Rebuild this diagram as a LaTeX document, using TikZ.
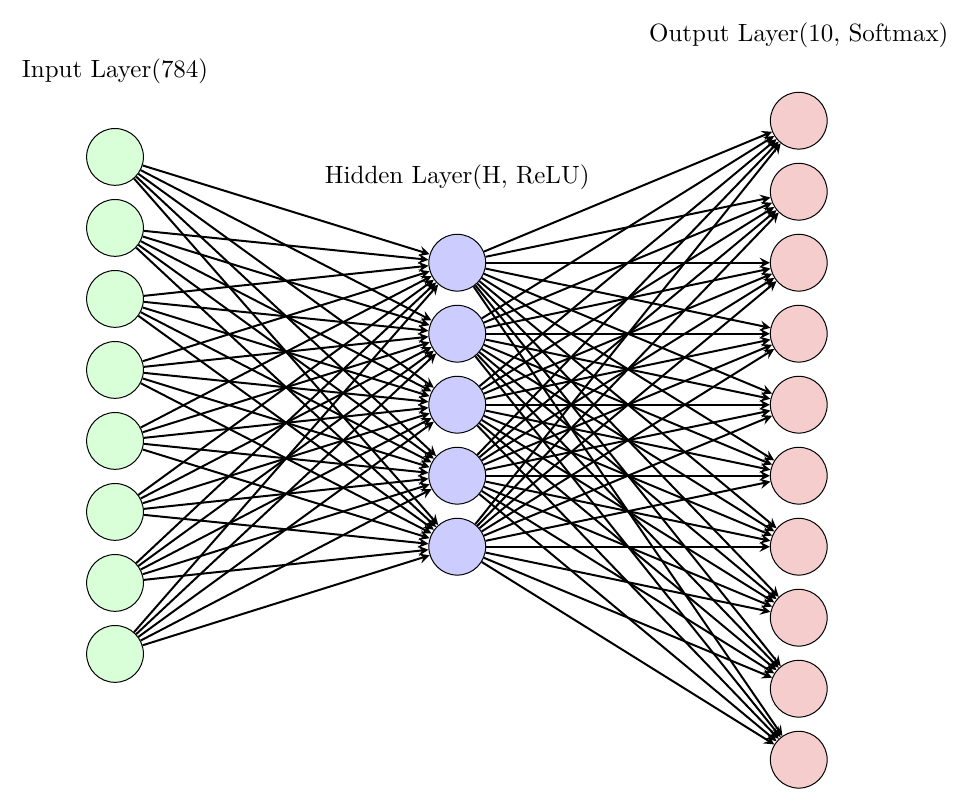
\documentclass[tikz,border=0pt]{standalone}
\usetikzlibrary{positioning,arrows}
\definecolor{outpink}{RGB}{246,205,205}
\begin{document}
\begin{tikzpicture}[neuron/.style={circle, draw, minimum size=0.8cm},
    conn/.style={-stealth, thick}]
    \useasboundingbox (0,0) rectangle (13.69,-11.35);
    % input layer
    \foreach \i in {1,...,8}
      \node (i\i) at (1.62,-1.21-\i) [neuron, fill=green!15] {};
    % hidden layer
    \foreach \j in {1,...,5}
      \node (h\j) at (6.44,-2.70-\j) [neuron, fill=blue!20] {};
    % output layer
    \foreach \k in {1,...,10}
      \node (o\k) at (11.25,-0.70-\k) [neuron, fill=outpink] {};
    \node (li) [above=0.5cm of i1] {Input Layer(784)};
    \node (lh) [above=0.5cm of h1] {Hidden Layer(H, ReLU)};
    \node (lo) [above=0.5cm of o1] {Output Layer(10, Softmax)};
    \foreach \i in {1,...,8}
      \foreach \j in {1,...,5}
        \draw[conn] (i\i) -- (h\j);
    \foreach \j in {1,...,5}
      \foreach \k in {1,...,10}
        \draw[conn] (h\j) -- (o\k);
\end{tikzpicture}
\end{document}
